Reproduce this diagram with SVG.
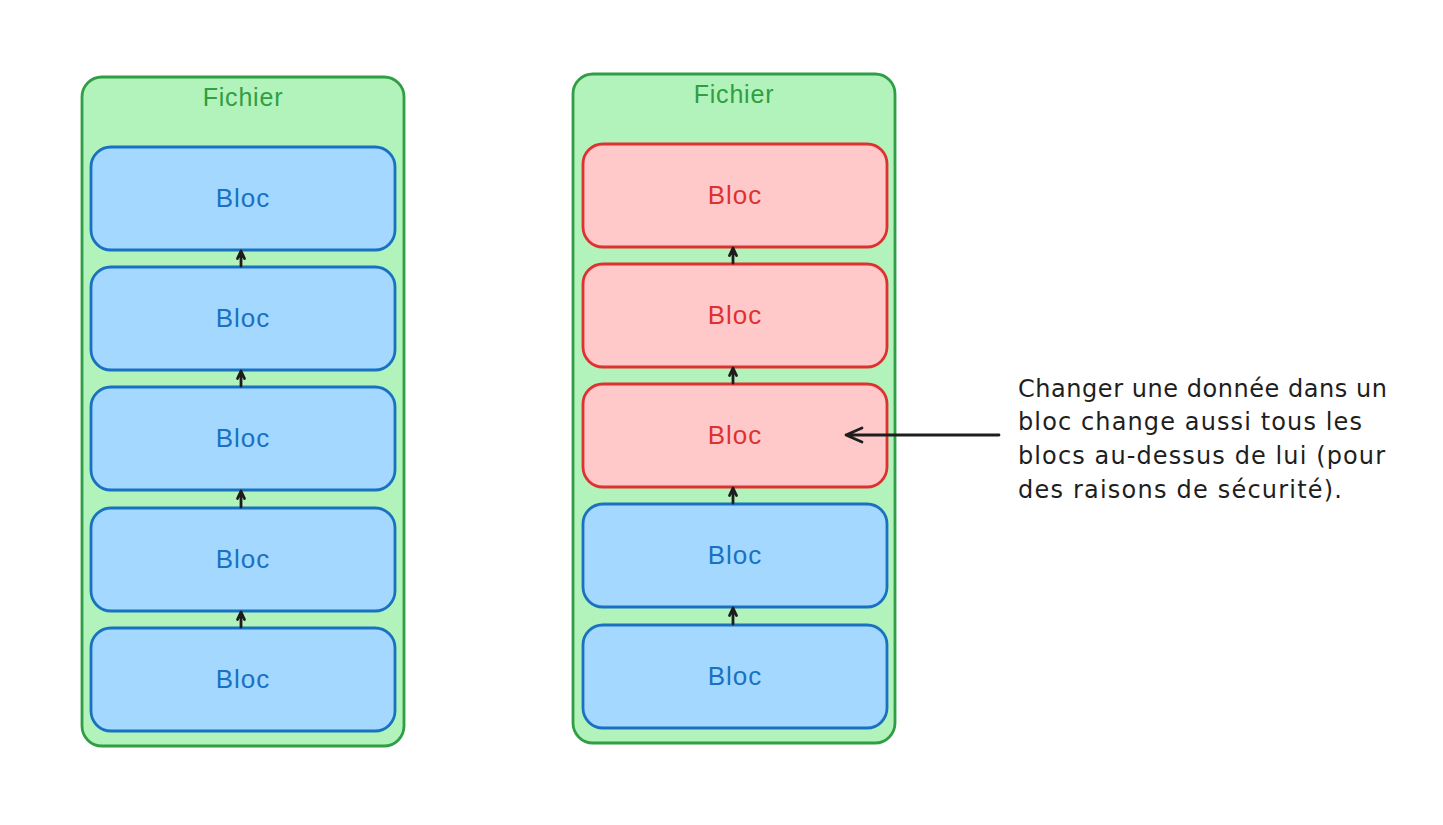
<svg xmlns="http://www.w3.org/2000/svg" width="1443" height="825" viewBox="0 0 1443 825">
<style>
.cont{fill:#b2f2bb;stroke:#2f9e44;stroke-width:2.8}
.blue{fill:#a5d8ff;stroke:#1971c2;stroke-width:2.8}
.red{fill:#ffc9c9;stroke:#e03131;stroke-width:2.8}
.t{font-family:"Liberation Sans",Arial,sans-serif;text-anchor:middle}
.ct{fill:#2f9e44;font-size:25px;letter-spacing:0.8px}
.bt{fill:#1971c2;font-size:26px;letter-spacing:1px}
.rt{fill:#e03131;font-size:26px;letter-spacing:1px}
.ann{font-family:"DejaVu Sans",sans-serif;font-size:24px;fill:#1e1e1e}
.ar{fill:none;stroke:#1e1e1e;stroke-width:2.8;stroke-linecap:round;stroke-linejoin:round}
</style>
<rect width="1443" height="825" fill="#ffffff"/>
<g id="fichier-left">
<rect class="cont" x="82" y="77" width="322" height="669" rx="20"/>
<text class="t ct" x="243" y="106">Fichier</text>
</g>
<g id="fichier-right">
<rect class="cont" x="573" y="74" width="322" height="669" rx="20"/>
<text class="t ct" x="734" y="103">Fichier</text>
</g>
<g id="l1"><rect class="blue" x="91" y="147" width="304" height="103" rx="20"/><text class="t bt" x="243" y="207">Bloc</text></g>
<g id="l2"><rect class="blue" x="91" y="267" width="304" height="103" rx="20"/><text class="t bt" x="243" y="327">Bloc</text></g>
<g id="l3"><rect class="blue" x="91" y="387" width="304" height="103" rx="20"/><text class="t bt" x="243" y="447">Bloc</text></g>
<g id="l4"><rect class="blue" x="91" y="508" width="304" height="103" rx="20"/><text class="t bt" x="243" y="568">Bloc</text></g>
<g id="l5"><rect class="blue" x="91" y="628" width="304" height="103" rx="20"/><text class="t bt" x="243" y="688">Bloc</text></g>
<g id="r1"><rect class="red" x="583" y="144" width="304" height="103" rx="20"/><text class="t rt" x="735" y="204">Bloc</text></g>
<g id="r2"><rect class="red" x="583" y="264" width="304" height="103" rx="20"/><text class="t rt" x="735" y="324">Bloc</text></g>
<g id="r3"><rect class="red" x="583" y="384" width="304" height="103" rx="20"/><text class="t rt" x="735" y="444">Bloc</text></g>
<g id="r4"><rect class="blue" x="583" y="504" width="304" height="103" rx="20"/><text class="t bt" x="735" y="564">Bloc</text></g>
<g id="r5"><rect class="blue" x="583" y="625" width="304" height="103" rx="20"/><text class="t bt" x="735" y="685">Bloc</text></g>
<g id="note">
<text class="ann" x="1018" y="397" textLength="369" lengthAdjust="spacing">Changer une donnée dans un</text>
<text class="ann" x="1018" y="430" textLength="344" lengthAdjust="spacing">bloc change aussi tous les</text>
<text class="ann" x="1018" y="464" textLength="367" lengthAdjust="spacing">blocs au-dessus de lui (pour</text>
<text class="ann" x="1018" y="498" textLength="324" lengthAdjust="spacing">des raisons de sécurité).</text>
</g>
<g id="connectors">
<path class="ar" d="M241,266 L241,252 M237.5,258.5 L241,251 L244.5,258.5"/>
<path class="ar" d="M241,386 L241,372 M237.5,378.5 L241,371 L244.5,378.5"/>
<path class="ar" d="M241,507 L241,492 M237.5,498.5 L241,491 L244.5,498.5"/>
<path class="ar" d="M241,627 L241,613 M237.5,619.5 L241,612 L244.5,619.5"/>
<path class="ar" d="M733,263 L733,249 M729.5,255.5 L733,248 L736.5,255.5"/>
<path class="ar" d="M733,383 L733,369 M729.5,375.5 L733,368 L736.5,375.5"/>
<path class="ar" d="M733,503 L733,489 M729.5,495.5 L733,488 L736.5,495.5"/>
<path class="ar" d="M733,624 L733,609 M729.5,615.5 L733,608 L736.5,615.5"/>
<path class="ar" d="M999,435 L846,435 M862,428 L846,435 L862,442"/>
</g>
</svg>
